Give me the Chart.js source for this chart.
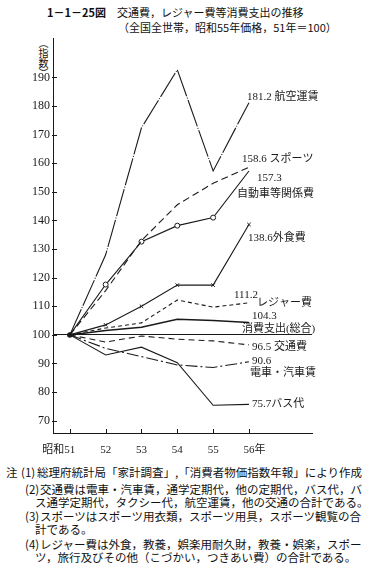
<!DOCTYPE html>
<html>
<head>
<meta charset="utf-8">
<script src="https://cdn.jsdelivr.net/npm/chart.js@4/dist/chart.umd.min.js"></script>
<style>
    body { margin: 0; background: #fff; width: 371px; height: 582px; overflow: hidden; position: relative; color: #111; }
    .t { position: absolute; white-space: nowrap; font-family: "Noto Sans CJK JP", sans-serif; font-size: 11px; line-height: 1; }
    .n { position: absolute; white-space: nowrap; font-family: "Noto Sans CJK JP", sans-serif; font-size: 11.5px; line-height: 1; }
    #chart { position: absolute; left: 0; top: 0; }
    #ytitle { position: absolute; left: 38px; top: 38px; writing-mode: vertical-rl; font-family: "Noto Sans CJK JP", sans-serif; font-size: 10px; line-height: 1; }
</style>
</head>
<body>
<div class="t" style="left:47px;top:7px;"><b>1－1－25図</b>　交通費，レジャー費等消費支出の推移</div>
<div class="t" style="left:118px;top:22px;">（全国全世帯，昭和55年価格，51年＝100）</div>
<div id="ytitle">（指数）</div>
<canvas id="chart" width="371" height="455"></canvas>

<div class="n" style="left:6px;top:467px;">注</div>
<div class="n" style="left:21px;top:467px;">(1)</div>
<div class="n" style="left:37px;top:467px;">総理府統計局「家計調査」,「消費者物価指数年報」により作成</div>
<div class="n" style="left:25px;top:484px;">(2)</div>
<div class="n" style="left:40px;top:484px;">交通費は電車・汽車賃，通学定期代，他の定期代，バス代，バ</div>
<div class="n" style="left:35px;top:497px;">ス通学定期代，タクシー代，航空運賃，他の交通の合計である。</div>
<div class="n" style="left:25px;top:511px;">(3)</div>
<div class="n" style="left:40px;top:511px;">スポーツはスポーツ用衣類，スポーツ用具，スポーツ観覧の合</div>
<div class="n" style="left:35px;top:524px;">計である。</div>
<div class="n" style="left:25px;top:539px;">(4)</div>
<div class="n" style="left:40px;top:539px;">レジャー費は外食，教養，娯楽用耐久財，教養・娯楽，スポー</div>
<div class="n" style="left:35px;top:552px;">ツ，旅行及びその他（こづかい，つきあい費）の合計である。</div>

<script>
// years (昭和)
const years = [51, 52, 53, 54, 55, 56];
const yTicks = [70, 80, 90, 100, 110, 120, 130, 140, 150, 160, 170, 180, 190];

// index values, 51年 = 100
const airFare     = [100, 128.0, 172.4, 192.7, 157.3, 181.2];
const sports      = [100, 115.5, 133.0, 145.5, 153.0, 158.6];
const carRelated  = [100, 117.6, 132.6, 138.2, 141.0, 157.3];
const eatingOut   = [100, 103.5, 110.0, 117.4, 117.4, 138.6];
const leisure     = [100, 102.4, 104.2, 112.2, 109.7, 111.2];
const consumption = [100, 101.5, 102.7, 105.5, 105.0, 104.3];
const transport   = [100, 97.5, 99.6, 98.5, 97.9, 96.5];
const trainFare   = [100, 95.3, 92.4, 89.5, 88.6, 90.6];
const busFare     = [100, 93.0, 95.7, 90.3, 75.4, 75.7];

const ink = "#1a1a1a";
const labelFont = '11px "Liberation Serif", "Noto Sans CJK JP", serif';

function pts(vals) {
    return years.map((yr, i) => ({ x: yr, y: vals[i] }));
}

function line(vals, dash, extra) {
    return Object.assign({
        data: pts(vals),
        borderColor: ink,
        borderWidth: 1.1,
        borderDash: dash,
        pointRadius: 0,
        tension: 0,
        fill: false
    }, extra || {});
}

// end labels: text, offset from the 56年 point
const endLabels = [
    { vals: airFare, items: [["181.2 航空運賃", -2, -6]] },
    { vals: sports, items: [["158.6 スポーツ", -7, -8]] },
    { vals: carRelated, items: [["157.3", 8, 7], ["自動車等関係費", -12, 23]] },
    { vals: eatingOut, items: [["138.6外食費", -1, 14]] },
    { vals: leisure, items: [["111.2", -15, -8], ["レジャー費", 8, 0]] },
    { vals: consumption, items: [["104.3", 3, -6], ["消費支出(総合)", -7, 7]] },
    { vals: transport, items: [["96.5 交通費", 3, 2]] },
    { vals: trainFare, items: [["90.6", 3, -1], ["電車・汽車賃", 1, 11]] },
    { vals: busFare, items: [["75.7バス代", 3, 0]] }
];

const decorPlugin = {
    id: "decor",
    afterDraw(chart) {
        const ctx = chart.ctx;
        const xs = chart.scales.x, ys = chart.scales.y;
        const area = chart.chartArea;
        ctx.save();
        ctx.strokeStyle = ink;
        ctx.lineWidth = 1;
        ctx.beginPath();
        years.forEach(yr => {
            const px = Math.round(xs.getPixelForValue(yr)) + 0.5;
            ctx.moveTo(px, area.bottom);
            ctx.lineTo(px, area.bottom - 4);
        });
        yTicks.forEach(v => {
            const py = Math.round(ys.getPixelForValue(v)) + 0.5;
            ctx.moveTo(area.left - 1, py);
            ctx.lineTo(area.left + 4, py);
        });
        ctx.stroke();

        ctx.fillStyle = ink;
        ctx.font = labelFont;
        ctx.textAlign = "left";
        ctx.textBaseline = "middle";
        const last = years[years.length - 1];
        endLabels.forEach(l => {
            const px = xs.getPixelForValue(last);
            const py = ys.getPixelForValue(l.vals[l.vals.length - 1]);
            l.items.forEach(it => ctx.fillText(it[0], px + it[1], py + it[2]));
        });
        ctx.restore();
    }
};

new Chart(document.getElementById("chart"), {
    type: "line",
    data: {
        datasets: [
            line(airFare, [28, 1.5, 1, 1.5]),
            line(sports, [7, 4]),
            line(carRelated, [], {
                pointRadius: [0, 2.5, 2.5, 2.5, 2.5, 0],
                pointStyle: "circle",
                pointBackgroundColor: "#fff",
                pointBorderColor: ink,
                pointBorderWidth: 1
            }),
            line(eatingOut, [], {
                pointRadius: [0, 2.5, 2.5, 2.5, 2.5, 2.5],
                pointStyle: "crossRot",
                pointBorderColor: ink,
                pointBorderWidth: 1
            }),
            line(leisure, [4, 3]),
            line(consumption, [], { borderWidth: 1.5 }),
            line(transport, [6, 4]),
            line(trainFare, [12, 3, 2, 3]),
            line(busFare, [], {
                pointRadius: [2.2, 0, 0, 0, 0, 0],
                pointBackgroundColor: ink,
                pointBorderColor: ink
            })
        ]
    },
    options: {
        responsive: false,
        animation: false,
        devicePixelRatio: 1,
        layout: { padding: { top: 38, right: 59, left: 0, bottom: 0 } },
        plugins: {
            legend: { display: false },
            tooltip: { enabled: false }
        },
        scales: {
            x: {
                type: "linear",
                min: 50.53,
                max: 57.76,
                afterBuildTicks: s => { s.ticks = years.map(v => ({ value: v })); },
                afterFit: s => { s.height = 22; },
                grid: { display: false },
                border: { display: true, color: ink, width: 1 },
                ticks: {
                    padding: 3,
                    color: ink,
                    maxRotation: 0,
                    autoSkip: false,
                    font: { family: '"Liberation Serif", "Noto Sans CJK JP", serif', size: 11 },
                    callback: v => v === 51 ? "昭和51　　" : (v === 56 ? "　56年" : String(v))
                }
            },
            y: {
                min: 65.7,
                max: 203.8,
                afterBuildTicks: s => { s.ticks = yTicks.map(v => ({ value: v })); },
                afterFit: s => { s.width = 53; },
                grid: {
                    drawTicks: false,
                    color: c => (c.tick && c.tick.value === 100) ? ink : "rgba(0,0,0,0)",
                    lineWidth: 1
                },
                border: { display: true, color: ink, width: 1 },
                ticks: {
                    padding: 3,
                    color: ink,
                    font: { family: '"Liberation Serif", serif', size: 12 }
                }
            }
        }
    },
    plugins: [decorPlugin]
});
</script>
</body>
</html>
